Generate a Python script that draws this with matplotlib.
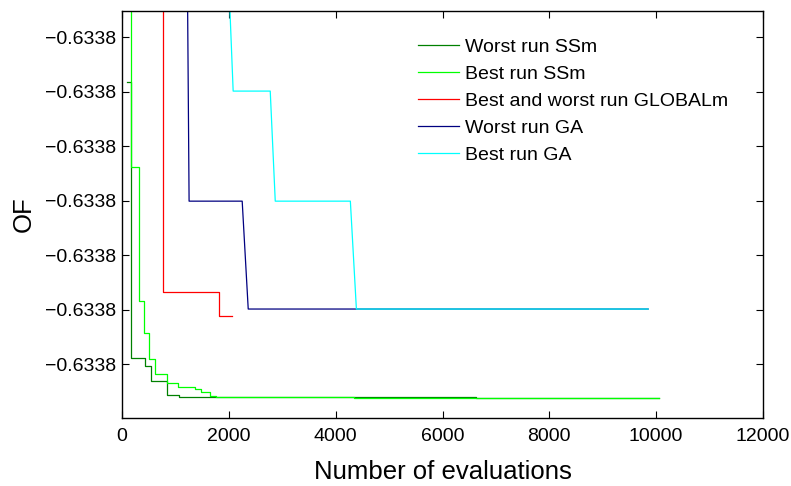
import matplotlib
matplotlib.use("Agg")
import matplotlib.pyplot as plt
from matplotlib.ticker import FixedLocator, FuncFormatter

plt.rcParams["font.family"] = ["Liberation Sans", "DejaVu Sans"]

# Worst run SSm
ssm_worst_x = [90, 175, 431, 544, 844, 1069, 6619, 10050]
ssm_worst_y = [-0.63379683, -0.63380189, -0.63380204, -0.63380231,
               -0.63380257, -0.63380260, -0.63380262, -0.63380262]

# Best run SSm
ssm_best_x = [100, 175, 320, 413, 506, 619, 844, 1050, 1369, 1481, 1650, 1763, 4350, 10050]
ssm_best_y = [-0.63379400, -0.63379839, -0.63380084, -0.63380143, -0.63380191,
              -0.63380218, -0.63380235, -0.63380242, -0.63380246, -0.63380251,
              -0.63380259, -0.63380260, -0.63380262, -0.63380262]

# Best and worst run GLOBALm
glob_x = [700, 769, 1819, 2062]
glob_y = [-0.63379400, -0.63380068, -0.63380112, -0.63380112]

# Worst run GA
ga_worst_x = [1225, 1256, 2250, 2363, 9850]
ga_worst_y = [-0.63379500, -0.63379901, -0.63379901, -0.63380099, -0.63380099]

# Best run GA
ga_best_x = [2000, 2081, 2775, 2869, 4275, 4388, 9850]
ga_best_y = [-0.63379500, -0.63379699, -0.63379699, -0.63379901, -0.63379901,
             -0.63380099, -0.63380099]

y_ticks = [-0.633802, -0.633801, -0.633800, -0.633799, -0.633798, -0.633797, -0.633796]
x_ticks = [0, 2000, 4000, 6000, 8000, 10000, 12000]

fig = plt.figure(figsize=(7.91, 4.86), dpi=100)
ax = fig.add_axes([122 / 791, 1 - 418 / 486, (763 - 122) / 791, (418 - 11) / 486])

lw = 0.9
ax.plot(ssm_worst_x, ssm_worst_y, drawstyle="steps-post", color="#008000", lw=lw, label="Worst run SSm")
ax.plot(ssm_best_x, ssm_best_y, drawstyle="steps-post", color="#00ff00", lw=lw, label="Best run SSm")
ax.plot(glob_x, glob_y, drawstyle="steps-post", color="#ff0000", lw=lw, label="Best and worst run GLOBALm")
ax.plot(ga_worst_x, ga_worst_y, color="#000080", lw=lw, label="Worst run GA")
ax.plot(ga_best_x, ga_best_y, color="#00ffff", lw=lw, label="Best run GA")

ax.set_xlim(0, 12000)
ax.set_ylim(-0.63380299, -0.63379552)
ax.xaxis.set_major_locator(FixedLocator(x_ticks))
ax.yaxis.set_major_locator(FixedLocator(y_ticks))
ax.yaxis.set_major_formatter(FuncFormatter(lambda v, p: ("%.4f" % v).replace("-", "\u2212")))

ax.tick_params(direction="in", length=5, width=0.8, labelsize=14, top=True, right=True)
ax.tick_params(axis="y", pad=4)
ax.tick_params(axis="x", pad=7)
for s in ax.spines.values():
    s.set_linewidth(1.0)

ax.set_xlabel("Number of evaluations", fontsize=18.5, labelpad=11)
ax.set_ylabel("OF", fontsize=18.5, labelpad=7)

ax.legend(loc="upper left", bbox_to_anchor=(418 / 791, 1 - 38 / 486), bbox_transform=fig.transFigure,
          frameon=False, fontsize=14, handlelength=2.1, handletextpad=0.3, labelspacing=0.49,
          borderpad=0, borderaxespad=0)

fig.savefig("out.png", dpi=100)
